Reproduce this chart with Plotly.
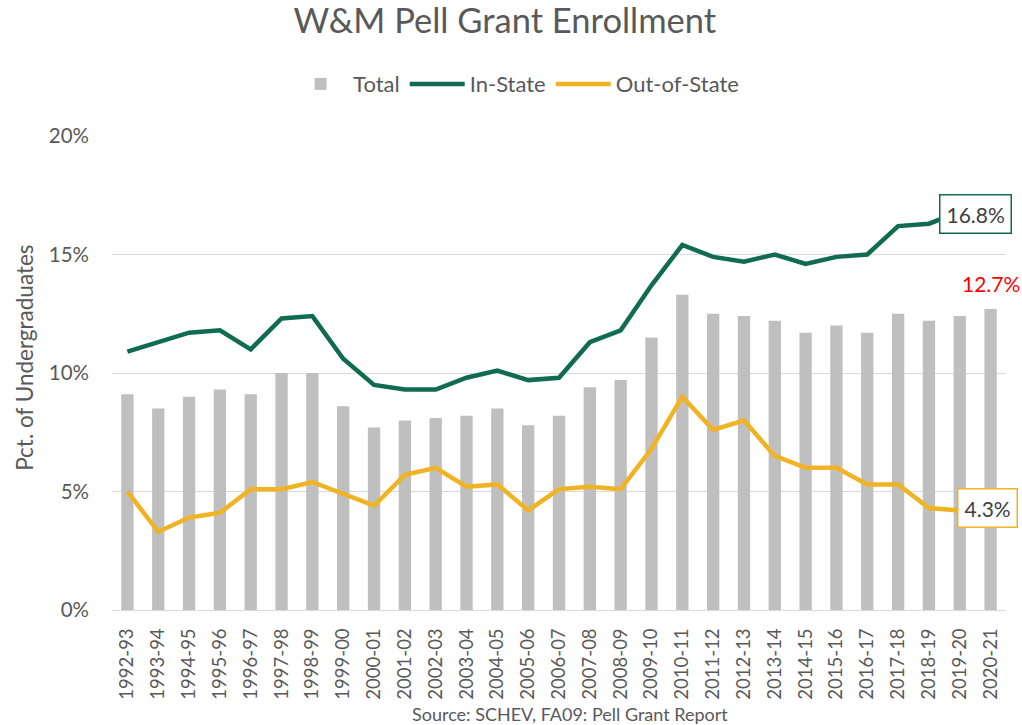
import plotly.graph_objects as go

years = ["1992-93","1993-94","1994-95","1995-96","1996-97","1997-98","1998-99","1999-00",
         "2000-01","2001-02","2002-03","2003-04","2004-05","2005-06","2006-07","2007-08",
         "2008-09","2009-10","2010-11","2011-12","2012-13","2013-14","2014-15","2015-16",
         "2016-17","2017-18","2018-19","2019-20","2020-21"]
total = [9.1, 8.5, 9.0, 9.3, 9.1, 10.0, 10.0, 8.6, 7.7, 8.0, 8.1, 8.2, 8.5, 7.8, 8.2,
         9.4, 9.7, 11.5, 13.3, 12.5, 12.4, 12.2, 11.7, 12.0, 11.7, 12.5, 12.2, 12.4, 12.7]
in_state = [10.9, 11.3, 11.7, 11.8, 11.0, 12.3, 12.4, 10.6, 9.5, 9.3, 9.3, 9.8, 10.1, 9.7, 9.8,
            11.3, 11.8, 13.7, 15.4, 14.9, 14.7, 15.0, 14.6, 14.9, 15.0, 16.2, 16.3, 16.8, 16.8]
out_state = [5.0, 3.3, 3.9, 4.1, 5.1, 5.1, 5.4, 4.9, 4.4, 5.7, 6.0, 5.2, 5.3, 4.2, 5.1,
             5.2, 5.1, 6.8, 9.0, 7.6, 8.0, 6.5, 6.0, 6.0, 5.3, 5.3, 4.3, 4.2, 4.3]
y_ticks = [0, 5, 10, 15, 20]
y_tick_labels = ["0%", "5%", "10%", "15%", "20%"]

GREEN = "#106B50"
GOLD = "#F0B323"
GRAY = "#BFBFBF"
TXT = "#595959"
FONT = "Lato"

fig = go.Figure()
fig.add_trace(go.Bar(x=years, y=total, name="Total", marker_color=GRAY, marker_line_width=0))
fig.add_trace(go.Scatter(x=years, y=in_state, name="In-State", mode="lines",
                         line=dict(color=GREEN, width=4.5)))
fig.add_trace(go.Scatter(x=years, y=out_state, name="Out-of-State", mode="lines",
                         line=dict(color=GOLD, width=4.5)))

fig.add_annotation(x=years[-1], y=in_state[-1], text=f"{in_state[-1]:.1f}%", showarrow=False,
                   xshift=-15, yshift=-2, font=dict(family=FONT, size=21, color="#404040"),
                   bgcolor="white", bordercolor=GREEN, borderwidth=1.5, borderpad=6)
fig.add_annotation(x=years[-1], y=out_state[-1], text=f"{out_state[-1]:.1f}%", showarrow=False,
                   xshift=-3, font=dict(family=FONT, size=21, color="#404040"),
                   bgcolor="white", bordercolor=GOLD, borderwidth=1.5, borderpad=6)
fig.add_annotation(x=years[-1], y=total[-1], text=f"{total[-1]:.1f}%", showarrow=False,
                   yshift=26, font=dict(family=FONT, size=21, color="#FF0000"))
fig.add_annotation(xref="paper", yref="paper", x=0.512, y=-0.219, yanchor="middle",
                   text="Source: SCHEV, FA09: Pell Grant Report", showarrow=False,
                   font=dict(family=FONT, size=18, color=TXT))
fig.add_annotation(xref="paper", yref="paper", x=-0.0973, y=0.532, xanchor="center",
                   yanchor="middle", textangle=-90,
                   text="Pct. of Undergraduates", showarrow=False,
                   font=dict(family=FONT, size=22.5, color=TXT))

fig.update_layout(
    width=1022, height=725,
    margin=dict(l=112, r=16, t=136, b=115, autoexpand=False),
    paper_bgcolor="white", plot_bgcolor="white",
    title=dict(text="W&M Pell Grant Enrollment", x=0.494, xref="container", y=0.971,
               xanchor="center", yanchor="middle", font=dict(family=FONT, size=34.5, color=TXT)),
    legend=dict(orientation="h", xref="container", x=0.505, xanchor="center",
                yref="container", y=0.884, yanchor="middle",
                font=dict(family=FONT, size=22, color=TXT), traceorder="normal",
                itemwidth=55),
    bargap=0.6,
    showlegend=True,
)
fig.update_xaxes(type="category", tickangle=-90, range=[-0.5, len(years) - 0.5],
                 tickfont=dict(family=FONT, size=18.5, color=TXT),
                 showline=True, linecolor="#D9D9D9", linewidth=1, ticks="", showgrid=False,
                 ticklabelstandoff=10, automargin=False)
fig.update_yaxes(range=[0, 20], tickvals=y_ticks, ticktext=y_tick_labels,
                 tickfont=dict(family=FONT, size=20.5, color=TXT),
                 gridcolor="#D9D9D9", gridwidth=1, zeroline=False, ticks="",
                 ticklabelstandoff=22, automargin=False)

fig.write_html("out.html", config={"displayModeBar": False},
               post_script="document.body.style.margin='0';document.body.style.overflow='hidden';")
